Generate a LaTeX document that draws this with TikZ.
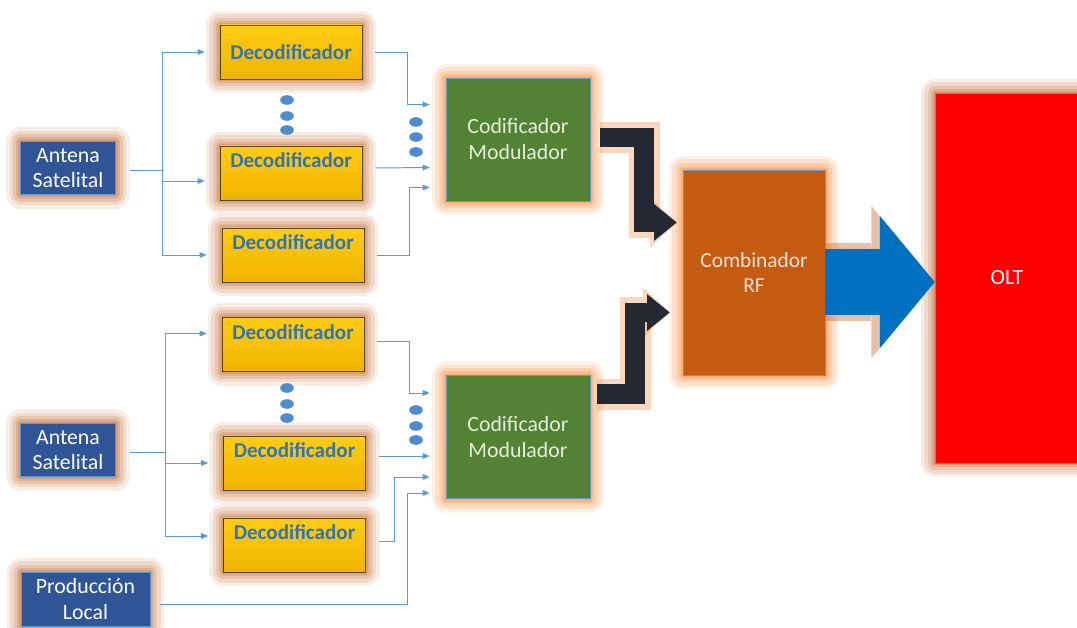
\documentclass[tikz,border=0pt]{standalone}
\usepackage{fontspec}
\setmainfont{Carlito}
\usetikzlibrary{arrows.meta}

\definecolor{antblue}{RGB}{47,85,151}
\definecolor{edgeblue}{RGB}{91,155,213}
\definecolor{decotop}{RGB}{255,204,20}
\definecolor{decobot}{RGB}{240,180,0}
\definecolor{decoedge}{RGB}{90,70,20}
\definecolor{decotext}{RGB}{46,117,182}
\definecolor{modgreen}{RGB}{84,130,53}
\definecolor{modtext}{RGB}{226,240,217}
\definecolor{combc}{RGB}{197,90,17}
\definecolor{combtext}{RGB}{251,229,214}
\definecolor{oltred}{RGB}{255,0,0}
\definecolor{oltedge}{RGB}{110,140,160}
\definecolor{bigblue}{RGB}{0,112,192}
\definecolor{darkc}{RGB}{35,40,50}
\definecolor{dotc}{RGB}{80,140,205}
\definecolor{glowa}{RGB}{200,115,60}
\definecolor{glowb}{RGB}{250,140,60}

\begin{document}
\begin{tikzpicture}[x=0.025cm, y=-0.025cm,
  glow/.style={preaction={draw=#1, draw opacity=0.12, line width=20pt, line join=round},
               preaction={draw=#1, draw opacity=0.16, line width=15pt, line join=round},
               preaction={draw=#1, draw opacity=0.2, line width=10pt, line join=round},
               preaction={draw=#1, draw opacity=0.25, line width=6pt, line join=round},
               preaction={draw=#1, draw opacity=0.3, line width=3pt, line join=round}},
  glow/.default=glowa,
  antena/.style={glow, draw=edgeblue, fill=antblue, text=white, align=center,
    minimum width=2.375cm, minimum height=1.325cm, inner sep=1pt,
    font=\fontsize{15.5}{17.8}\selectfont},
  deco/.style={glow, draw=decoedge, top color=decotop, bottom color=decobot,
    minimum width=3.55cm, minimum height=1.35cm, text=decotext,
    font=\bfseries\fontsize{15}{17}\selectfont},
  decoup/.style={text depth=18pt},
  codmod/.style={glow=glowb, draw=edgeblue, fill=modgreen, text=modtext, align=center,
    minimum width=3.6cm, minimum height=3.075cm, font=\fontsize{15.5}{18.5}\selectfont},
  comb/.style={glow=glowb, draw=edgeblue, fill=combc, text=combtext, align=center,
    minimum width=3.55cm, minimum height=5.125cm, font=\fontsize{15.2}{18}\selectfont},
  olt/.style={glow, draw=oltedge, fill=oltred, text=white,
    minimum width=3.6cm, minimum height=9.25cm, font=\fontsize{15.5}{17}\selectfont},
  con/.style={draw=edgeblue, line width=0.7pt},
  conarrow/.style={con, -{Triangle[length=5pt,width=4pt]}},
  dot/.style={fill=dotc},
  darkarrow/.style={draw=darkc, line width=14pt, line cap=butt, line join=miter,
    -{Triangle[length=16pt,width=26pt,line width=0pt]},
    preaction={draw=glowb, opacity=0.35, line width=22pt, line join=miter,
      -{Triangle[length=19pt,width=36pt,line width=0pt]}}},
  bigarrow/.style={draw=bigblue, line width=47pt,
    -{Triangle[length=39pt,width=94pt,line width=0pt]},
    preaction={draw=glowa, opacity=0.45, line width=56pt,
      -{Triangle[length=45pt,width=108pt,line width=0pt]}}}
]
\useasboundingbox (0,0) rectangle (1077,628);

% sources
\node[antena] (ant1) at (68,168) {Antena\\Satelital};
\node[antena] (ant2) at (68,450) {Antena\\Satelital};
\node[antena, minimum width=3.225cm, minimum height=1.35cm] (prod) at (85.5,599) {Producción\\Local};

% decoders
\node[deco] (d1) at (291,52) {Decodificador};
\node[deco, decoup] (d2) at (291,173) {Decodificador};
\node[deco, decoup] (d3) at (293,255) {Decodificador};
\node[deco, decoup] (d4) at (293,344.5) {Decodificador};
\node[deco, decoup] (d5) at (294.5,463) {Decodificador};
\node[deco, decoup] (d6) at (294.5,545) {Decodificador};

% dots
\foreach \y in {100,116,130,388,404,418}
  \fill[dot] (287,\y) ellipse [x radius=0.17cm, y radius=0.12cm];
\foreach \y in {122,137,152,410,426,440}
  \fill[dot] (416,\y) ellipse [x radius=0.17cm, y radius=0.12cm];

% modulators, combiner, OLT
\node[codmod] (mod1) at (518,139.5) {Codificador\\Modulador};
\node[codmod] (mod2) at (518,437) {Codificador\\Modulador};
\node[comb] (comb) at (754,272.5) {Combinador\\RF};
\node[olt] (olt) at (1007,278) {OLT};

% upper branch
\draw[con] ([shift={(14,2)}]ant1.east) -- ++(33,0) coordinate (bus1);
\draw[conarrow] (bus1) |- ([xshift=-0.375cm]d1.west);
\draw[conarrow] (bus1) |- ([shift={(-15,8)}]d2.west);
\draw[conarrow] (bus1) |- ([xshift=-0.375cm]d3.west);
\draw[conarrow] ([xshift=0.325cm]d1.east) -- ++(32,0) |- ([shift={(-16,-35)}]mod1.west);
\draw[conarrow] ([shift={(13,-5)}]d2.east) -- ([shift={(-16,28)}]mod1.west);
\draw[conarrow] ([xshift=0.325cm]d3.east) -- ++(32,0) |- ([shift={(-16,48)}]mod1.west);

% lower branch
\draw[con] ([shift={(14,2)}]ant2.east) -- ++(36,0) coordinate (bus2);
\draw[conarrow] (bus2) |- ([shift={(-15,-11)}]d4.west);
\draw[conarrow] (bus2) |- ([xshift=-0.375cm]d5.west);
\draw[conarrow] (bus2) |- ([shift={(-15,-9)}]d6.west);
\draw[conarrow] ([shift={(13,-3)}]d4.east) -- ++(32,0) |- ([shift={(-16,-44)}]mod2.west);
\draw[conarrow] ([shift={(13,-7)}]d5.east) -- ([shift={(-16,19)}]mod2.west);
\draw[conarrow] ([shift={(13,-4)}]d6.east) -- ++(16,0) |- ([shift={(-16,40)}]mod2.west);
\draw[conarrow] ([shift={(10,5)}]prod.east) -- ++(247,0) |- ([shift={(-16,56)}]mod2.west);

% to combiner and OLT
\draw[darkarrow] ([shift={(10,-2)}]mod1.east) -- ++(44,0) |- ([shift={(-6,-50)}]comb.west);
\draw[darkarrow] ([shift={(7,19)}]mod2.north east) -- ++(38,0) |- ([shift={(-13,40)}]comb.west);
\draw[bigarrow] ([yshift=-0.24cm]comb.east) coordinate (ba) -- (olt.west |- ba);

\end{tikzpicture}
\end{document}
